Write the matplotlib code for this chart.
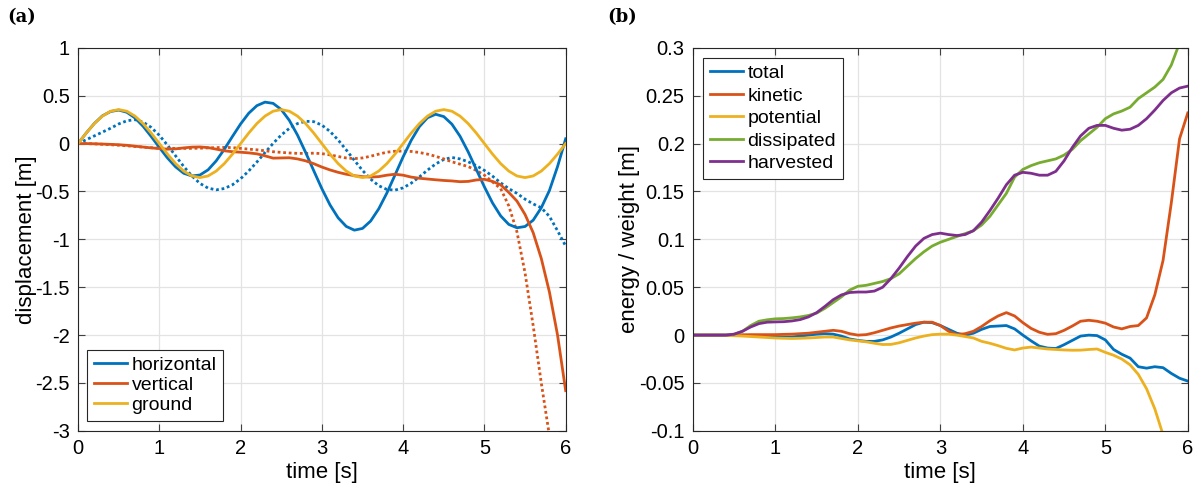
import matplotlib
matplotlib.use("Agg")
import matplotlib.pyplot as plt
import numpy as np
from matplotlib.ticker import FormatStrFormatter, MultipleLocator

plt.rcParams.update({'font.size': 14})
plt.rcParams["font.family"] = ["Liberation Sans", "DejaVu Sans"]
plt.rcParams["axes.unicode_minus"] = False

# time axis, 0.1 s steps
t = np.round(np.arange(0, 6.01, 0.1), 2)

# ---- (a) displacement [m] ----
horizontal = [0, 0.11, 0.21, 0.29, 0.335, 0.35, 0.327, 0.268, 0.181, 0.074,
              -0.04, -0.15, -0.243, -0.31, -0.338, -0.328, -0.274, -0.18, -0.059, 0.075,
              0.205, 0.317, 0.396, 0.433, 0.42, 0.356, 0.242, 0.089, -0.092, -0.283,
              -0.471, -0.64, -0.775, -0.865, -0.904, -0.886, -0.809, -0.681, -0.516, -0.328,
              -0.138, 0.035, 0.177, 0.27, 0.306, 0.282, 0.203, 0.077, -0.086, -0.269,
              -0.452, -0.62, -0.755, -0.844, -0.879, -0.866, -0.8, -0.67, -0.49, -0.24,
              0.05]
vertical = [0, 0, -0.002, -0.005, -0.008, -0.012, -0.018, -0.027, -0.036, -0.045,
            -0.052, -0.058, -0.055, -0.045, -0.037, -0.035, -0.042, -0.058, -0.075, -0.085,
            -0.09, -0.097, -0.107, -0.128, -0.152, -0.15, -0.148, -0.16, -0.18, -0.21,
            -0.245, -0.275, -0.3, -0.32, -0.335, -0.345, -0.35, -0.345, -0.33, -0.32,
            -0.33, -0.35, -0.362, -0.37, -0.378, -0.385, -0.39, -0.398, -0.395, -0.38,
            -0.373, -0.395, -0.43, -0.51, -0.6, -0.74, -0.93, -1.2, -1.55, -2.0,
            -2.58]
ground = [0, 0.11, 0.209, 0.287, 0.338, 0.355, 0.338, 0.287, 0.209, 0.11,
          0, -0.11, -0.209, -0.287, -0.338, -0.355, -0.338, -0.287, -0.209, -0.11,
          0, 0.11, 0.209, 0.287, 0.338, 0.355, 0.338, 0.287, 0.209, 0.11,
          0, -0.11, -0.209, -0.287, -0.338, -0.355, -0.338, -0.287, -0.209, -0.11,
          0, 0.11, 0.209, 0.287, 0.338, 0.355, 0.338, 0.287, 0.209, 0.11,
          0, -0.11, -0.209, -0.287, -0.338, -0.355, -0.338, -0.287, -0.209, -0.11,
          0]
horizontal_dot = [0, 0.04, 0.08, 0.12, 0.16, 0.205, 0.238, 0.25, 0.225, 0.169,
                  0.086, -0.016, -0.128, -0.239, -0.337, -0.416, -0.465, -0.483, -0.469, -0.43,
                  -0.367, -0.286, -0.193, -0.094, 0.002, 0.089, 0.159, 0.209, 0.233, 0.229,
                  0.193, 0.127, 0.038, -0.066, -0.175, -0.28, -0.371, -0.44, -0.479, -0.486,
                  -0.462, -0.413, -0.348, -0.277, -0.213, -0.166, -0.145, -0.16, -0.19, -0.23,
                  -0.28, -0.34, -0.41, -0.47, -0.52, -0.58, -0.63, -0.67, -0.76, -0.91,
                  -1.07]
vertical_dot = [0, 0, -0.003, -0.007, -0.012, -0.017, -0.023, -0.03, -0.037, -0.043,
                -0.048, -0.05, -0.05, -0.05, -0.05, -0.048, -0.045, -0.042, -0.04, -0.042,
                -0.05, -0.058, -0.065, -0.075, -0.085, -0.092, -0.098, -0.102, -0.103, -0.1,
                -0.105, -0.118, -0.135, -0.15, -0.157, -0.15, -0.132, -0.11, -0.09, -0.08,
                -0.078, -0.082, -0.093, -0.11, -0.133, -0.16, -0.19, -0.215, -0.24, -0.28,
                -0.33, -0.4, -0.47, -0.65, -0.92, -1.35, -1.9, -2.5, -3.05, -3.6,
                -4.2]

# ---- (b) energy / weight [m] ----
total = [0, 0, 0, 0, 0, 0, 0, -0.0005, -0.001, -0.0015,
         -0.002, -0.002, -0.002, -0.001, 0, 0.001, 0.0015, 0.001, -0.001, -0.004,
         -0.0055, -0.0065, -0.0065, -0.005, -0.002, 0.002, 0.0065, 0.011, 0.0135, 0.013,
         0.01, 0.006, 0.002, 0.0, 0.002, 0.006, 0.009, 0.0095, 0.01, 0.0065,
         0.0, -0.006, -0.0115, -0.0135, -0.014, -0.01, -0.0055, -0.001, 0.0, -0.0005,
         -0.005, -0.015, -0.02, -0.024, -0.033, -0.0345, -0.033, -0.034, -0.04, -0.045,
         -0.048]
kinetic = [0, 0, 0, 0, 0, 0, 0.0003, 0.0005, 0.0005, 0.0005,
           0.0005, 0.0008, 0.001, 0.0015, 0.002, 0.003, 0.004, 0.005, 0.004, 0.0015,
           0.0, 0.0005, 0.0025, 0.005, 0.0075, 0.0095, 0.011, 0.0125, 0.0135, 0.0135,
           0.01, 0.004, 0.0005, 0.0015, 0.004, 0.009, 0.015, 0.02, 0.0235, 0.02,
           0.013, 0.007, 0.003, 0.0008, 0.0015, 0.005, 0.0095, 0.0145, 0.0155, 0.0145,
           0.0125, 0.0085, 0.0065, 0.009, 0.01, 0.018, 0.042, 0.078, 0.138, 0.205,
           0.232]
potential = [0, 0, 0, 0, -0.0003, -0.0006, -0.001, -0.0015, -0.002, -0.0025,
             -0.003, -0.0033, -0.0035, -0.0033, -0.003, -0.0025, -0.002, -0.002, -0.0035, -0.005,
             -0.006, -0.007, -0.0085, -0.0098, -0.0097, -0.008, -0.0055, -0.003, -0.001, 0.0005,
             0.001, 0.001, 0.0, -0.0015, -0.003, -0.0065, -0.0085, -0.011, -0.0138, -0.0155,
             -0.0135, -0.0125, -0.0135, -0.0145, -0.015, -0.0155, -0.0158, -0.0157, -0.015, -0.0145,
             -0.018, -0.021, -0.025, -0.031, -0.041, -0.056, -0.077, -0.104, -0.14, -0.18,
             -0.23]
dissipated = [0, 0, 0, 0, 0, 0.001, 0.004, 0.01, 0.0145, 0.016,
              0.017, 0.0173, 0.018, 0.019, 0.0205, 0.023, 0.028, 0.034, 0.04, 0.047,
              0.051, 0.052, 0.054, 0.056, 0.059, 0.064, 0.072, 0.08, 0.087, 0.093,
              0.097, 0.1, 0.103, 0.106, 0.109, 0.115, 0.124, 0.136, 0.148, 0.165,
              0.173, 0.177, 0.18, 0.182, 0.184, 0.188, 0.194, 0.203, 0.21, 0.217,
              0.226, 0.231, 0.234, 0.238, 0.247, 0.253, 0.259, 0.267, 0.282, 0.305,
              0.33]
harvested = [0, 0, 0, 0, 0, 0.001, 0.004, 0.0085, 0.012, 0.0135,
             0.0138, 0.014, 0.0148, 0.0162, 0.019, 0.0235, 0.03, 0.037, 0.042, 0.0445,
             0.045, 0.045, 0.046, 0.05, 0.059, 0.07, 0.082, 0.093, 0.101, 0.105,
             0.1065, 0.105, 0.104, 0.105, 0.109, 0.118, 0.13, 0.143, 0.157, 0.167,
             0.17, 0.169, 0.167, 0.167, 0.171, 0.182, 0.196, 0.208, 0.216, 0.219,
             0.219, 0.216, 0.214, 0.215, 0.219, 0.226, 0.235, 0.245, 0.253, 0.258,
             0.26]

blue, red, yellow, green, purple = '#0072BD', '#D95319', '#EDB120', '#77AC30', '#7E2F8E'

fig = plt.figure(figsize=(12.01, 4.93), dpi=100)
ax1 = fig.add_axes([0.065, 0.126, 0.406, 0.777])
ax2 = fig.add_axes([0.577, 0.126, 0.412, 0.777])

lw = 2.0
dot = (0, (1, 1))
ax1.plot(t, horizontal_dot, linestyle=dot, color=blue, lw=lw)
ax1.plot(t, vertical_dot, linestyle=dot, color=red, lw=lw)
ax1.plot(t, horizontal, color=blue, lw=lw, label='horizontal')
ax1.plot(t, vertical, color=red, lw=lw, label='vertical')
ax1.plot(t, ground, color=yellow, lw=lw, label='ground')
ax1.set_xlim(0, 6)
ax1.set_ylim(-3, 1)
ax1.yaxis.set_major_locator(MultipleLocator(0.5))
ax1.set_xlabel('time [s]', fontsize=16, labelpad=3)
ax1.set_ylabel('displacement [m]', fontsize=16, labelpad=-1)

ax2.plot(t, total, color=blue, lw=lw, label='total')
ax2.plot(t, kinetic, color=red, lw=lw, label='kinetic')
ax2.plot(t, potential, color=yellow, lw=lw, label='potential')
ax2.plot(t, dissipated, color=green, lw=lw, label='dissipated')
ax2.plot(t, harvested, color=purple, lw=lw, label='harvested')
ax2.set_xlim(0, 6)
ax2.set_ylim(-0.1, 0.3)
ax2.yaxis.set_major_locator(MultipleLocator(0.05))
ax2.set_xlabel('time [s]', fontsize=16, labelpad=3)
ax2.set_ylabel('energy / weight [m]', fontsize=16, labelpad=-1)

for ax in (ax1, ax2):
    ax.grid(True, color='#e3e3e3', lw=0.9)
    ax.set_axisbelow(True)
    ax.yaxis.set_major_formatter(FormatStrFormatter('%g'))
    ax.tick_params(direction='in', top=True, right=True, length=5, width=0.8,
                   color='#404040', labelsize=14.5, pad=6)
    for s in ax.spines.values():
        s.set_color('#262626')
        s.set_linewidth(0.8)

leg_kw = dict(fancybox=False, framealpha=1, edgecolor='#262626', borderaxespad=0,
              handlelength=1.7, handletextpad=0.25, borderpad=0.35, fontsize=14)
l1 = ax1.legend(loc='lower left', bbox_to_anchor=(0.018, 0.026), labelspacing=0.12, **leg_kw)
l2 = ax2.legend(loc='upper left', bbox_to_anchor=(0.02, 0.974), labelspacing=0.25, **leg_kw)
for l in (l1, l2):
    l.get_frame().set_linewidth(0.8)

fig.text(0.006, 0.955, '(a)', fontsize=13, fontweight='bold', family='DejaVu Serif')
fig.text(0.506, 0.955, '(b)', fontsize=13, fontweight='bold', family='DejaVu Serif')

fig.savefig('out.png', dpi=100)
